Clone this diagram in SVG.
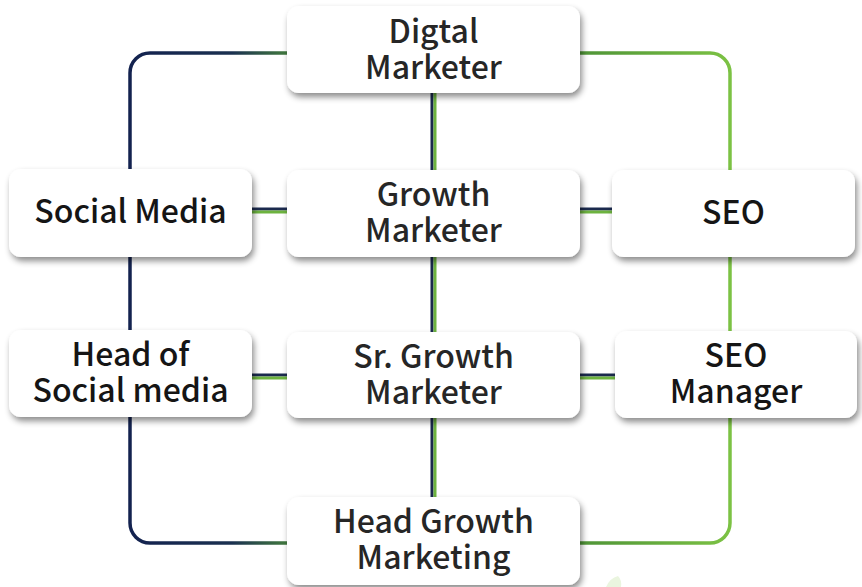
<svg xmlns="http://www.w3.org/2000/svg" width="862" height="587" viewBox="0 0 862 587">
<defs>
<filter id="sh" x="-10%" y="-20%" width="125%" height="150%">
<feDropShadow dx="2" dy="4" stdDeviation="3" flood-color="#000" flood-opacity="0.45"/>
</filter>
<linearGradient id="gl" gradientUnits="userSpaceOnUse" x1="130" y1="0" x2="300" y2="0">
<stop offset="0" stop-color="#13224f"/>
<stop offset="0.6" stop-color="#1b3150"/>
<stop offset="1" stop-color="#4a8a3a"/>
</linearGradient>
<linearGradient id="gr" gradientUnits="userSpaceOnUse" x1="580" y1="0" x2="730" y2="0">
<stop offset="0" stop-color="#4f9437"/>
<stop offset="1" stop-color="#7cc244"/>
</linearGradient>
<style>
.box{fill:#fff;filter:url(#sh)}
.t{font-family:"Noto Sans CJK KR","Noto Sans",sans-serif;font-weight:500;font-size:32px;fill:#151515;text-anchor:middle}
.c{fill:#262626}
.nv{stroke:#1b2a4e;stroke-width:3;fill:none}
.gn{stroke:#6db33f;stroke-width:3;fill:none}
</style>
</defs>
<g id="connectors">
<path d="M290 53 H150 A20 20 0 0 0 130 73 V523 A20 20 0 0 0 150 543 H290" fill="none" stroke="url(#gl)" stroke-width="3.5"/>
<path d="M578 53 H710 A20 20 0 0 1 730 73 V523 A20 20 0 0 1 710 543 H578" fill="none" stroke="url(#gr)" stroke-width="3.5"/>
<line class="nv" x1="432" y1="90" x2="432" y2="500"/>
<line class="gn" x1="435" y1="90" x2="435" y2="500"/>
<line class="nv" x1="250" y1="209" x2="615" y2="209"/>
<line class="gn" x1="250" y1="212" x2="615" y2="212"/>
<line class="nv" x1="250" y1="375" x2="618" y2="375"/>
<line class="gn" x1="250" y1="378" x2="618" y2="378"/>
</g>
<path d="M606 587 Q610 578 618 576 Q622 580 621 587 Z" fill="#eaf5df"/>
<g id="digital-marketer">
<rect class="box" x="287" y="6" width="293" height="87" rx="12"/>
<text class="t c" x="433.5" y="43">Digtal<tspan x="433.5" dy="36">Marketer</tspan></text>
</g>
<g id="growth-marketer">
<rect class="box" x="287" y="170" width="293" height="87" rx="12"/>
<text class="t c" x="433.5" y="206">Growth<tspan x="433.5" dy="36">Marketer</tspan></text>
</g>
<g id="social-media">
<rect class="box" x="9" y="169" width="243" height="88" rx="12"/>
<text class="t" x="130.5" y="223">Social Media</text>
</g>
<g id="seo">
<rect class="box" x="612" y="170" width="243" height="87" rx="12"/>
<text class="t" x="733.5" y="224">SEO</text>
</g>
<g id="head-of-social-media">
<rect class="box" x="9" y="330" width="243" height="87" rx="12"/>
<text class="t" x="130.5" y="366">Head of<tspan x="130.5" dy="36">Social media</tspan></text>
</g>
<g id="sr-growth-marketer">
<rect class="box" x="287" y="332" width="293" height="86" rx="12"/>
<text class="t c" x="433.5" y="368">Sr. Growth<tspan x="433.5" dy="36">Marketer</tspan></text>
</g>
<g id="seo-manager">
<rect class="box" x="615" y="331" width="242" height="87" rx="12"/>
<text class="t" x="736" y="367">SEO<tspan x="736" dy="36">Manager</tspan></text>
</g>
<g id="head-growth-marketing">
<rect class="box" x="287" y="497" width="293" height="88" rx="12"/>
<text class="t c" x="433.5" y="533">Head Growth<tspan x="433.5" dy="36">Marketing</tspan></text>
</g>
</svg>
